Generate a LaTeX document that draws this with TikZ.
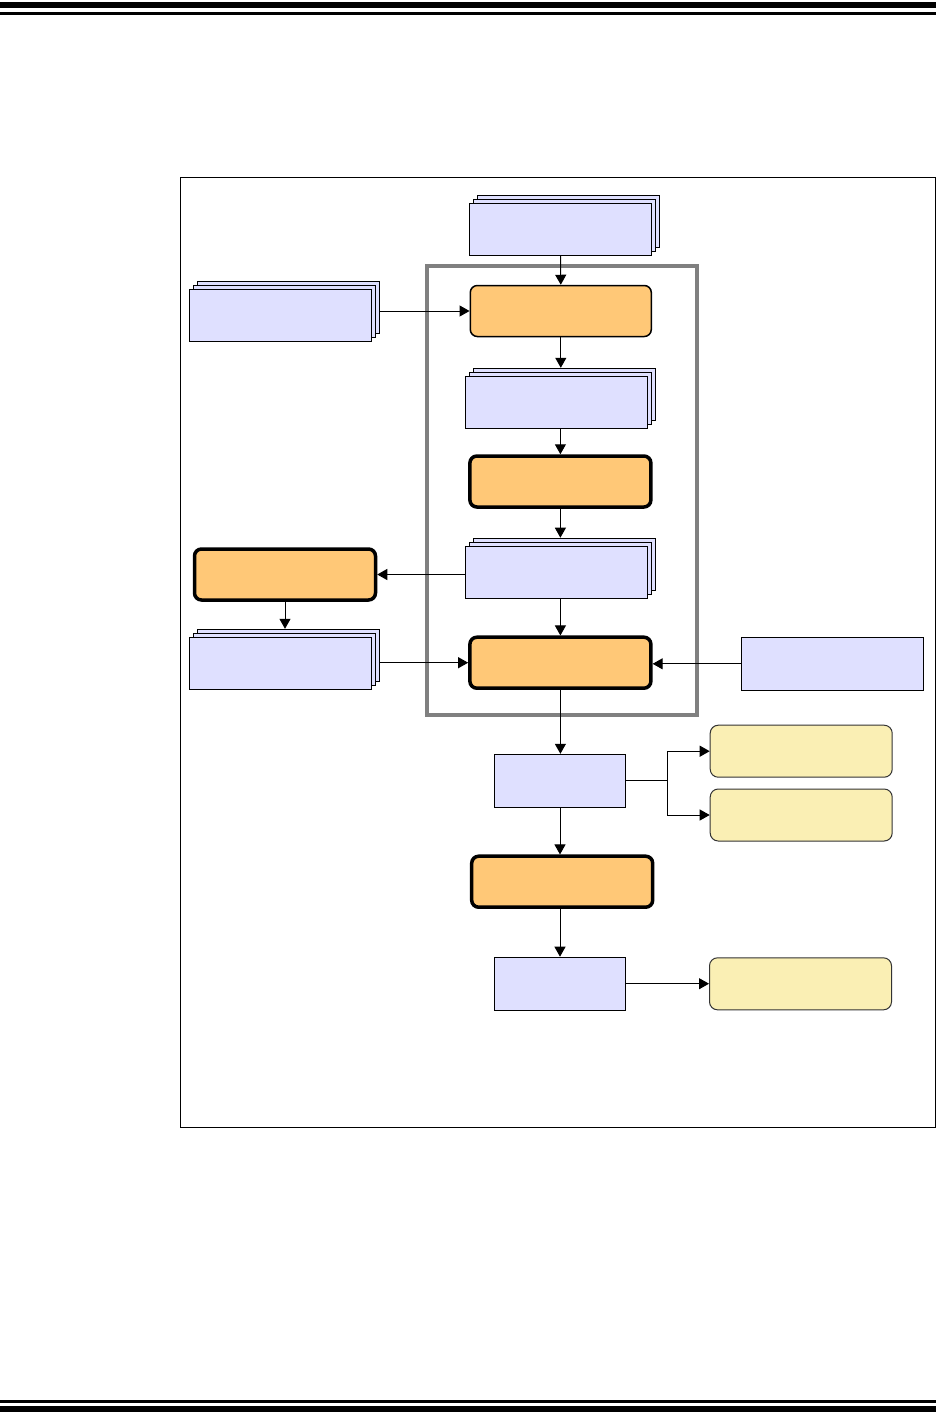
\documentclass[tikz,border=0pt]{standalone}
\usetikzlibrary{arrows.meta, shadows, positioning}

\definecolor{docblue}{RGB}{223,224,255}
\definecolor{procorange}{RGB}{255,200,119}
\definecolor{noteyellow}{RGB}{250,239,180}
\definecolor{framegray}{RGB}{128,128,128}

\begin{document}
\begin{tikzpicture}[x=1pt, y=-1pt, >={Triangle[length=10pt,width=11pt]},
  every node/.style={inner sep=0pt},
  plainbox/.style={draw, fill=docblue, line width=1pt, minimum width=182pt, minimum height=52pt},
  smallbox/.style={plainbox, minimum width=131pt, minimum height=53pt},
  docstack/.style={plainbox, double copy shadow={shadow xshift=4pt, shadow yshift=4pt,
      fill=docblue, draw=black, line width=1pt}},
  procbox/.style={draw, fill=procorange, line width=3.5pt, rounded corners=7pt,
      minimum width=181pt, minimum height=51pt},
  procthin/.style={procbox, line width=1.5pt},
  notebox/.style={draw=black!80, fill=noteyellow, line width=1pt, rounded corners=8pt,
      minimum width=182pt, minimum height=52pt},
  flow/.style={->, line width=1pt}
]
  \useasboundingbox (0,0) rectangle (936,1428);

  % page rules
  \fill (0,2) rectangle (936,8);
  \fill (0,12) rectangle (936,14.5);
  \fill (0,1400) rectangle (936,1402.5);
  \fill (0,1406) rectangle (936,1412);

  % outer frame and grouping box
  \draw[line width=1pt] (180.5,177.5) rectangle (935,1127);
  \draw[framegray, line width=3.5pt] (427,266) rectangle (697,715);

  % main column
  \node[docstack] (td) at (560.5,229.2) {};
  \node[procthin] (o1) at (560.8,311) {};
  \node[docstack] (d2) at (556.5,402.3) {};
  \node[procbox] (o2) at (560.4,481.5) {};
  \node[docstack] (d3) at (556.5,572.2) {};
  \node[procbox] (o3) at (560.4,662.7) {};
  \node[smallbox] (ba) at (560,780.8) {};
  \node[procbox] (o5) at (562.2,881.7) {};
  \node[smallbox] (bb) at (560,983.7) {};

  % left side
  \node[docstack] (ld1) at (280.5,315.7) {};
  \node[procbox] (o4) at (285,574.5) {};
  \node[docstack] (ld4) at (280.5,663.3) {};

  % right side
  \node[plainbox, minimum height=53pt] (rb) at (832.7,663.8) {};
  \node[notebox] (y1) at (801.2,751.2) {};
  \node[notebox] (y2) at (801.2,815) {};
  \node[notebox] (y3) at (800.5,983.8) {};

  % tops of the stacked copies
  \coordinate (d2top) at ([yshift=8pt]d2.north);
  \coordinate (d3top) at ([yshift=8pt]d3.north);
  \coordinate (ld4top) at ([yshift=8pt]ld4.north);

  % vertical flow
  \draw[flow] (td.south) -- (o1.north);
  \draw[flow] (o1.south) -- (o1.south |- d2top);
  \draw[flow] (d2.south -| o2.north) -- (o2.north);
  \draw[flow] (o2.south) -- (o2.south |- d3top);
  \draw[flow] (d3.south -| o3.north) -- (o3.north);
  \draw[flow] (o3.south) -- (o3.south |- ba.north);
  \draw[flow] (ba.south) -- (ba.south |- o5.north);
  \draw[flow] (o5.south -| bb.north) -- (bb.north);
  \draw[flow] (o4.south) -- (o4.south |- ld4top);

  % horizontal flow
  \draw[flow] ([xshift=8pt]ld1.east |- o1.west) -- (o1.west);
  \draw[flow] (d3.west |- o4.east) -- (o4.east);
  \draw[flow] ([xshift=8pt]ld4.east |- o3.west) -- (o3.west);
  \draw[flow] (rb.west) -- (rb.west -| o3.east);
  \draw[flow] (ba.east) -- ++(41,0) |- (y1.west);
  \draw[flow] (ba.east) -- ++(41,0) |- (y2.west);
  \draw[flow] (bb.east) -- (bb.east -| y3.west);
\end{tikzpicture}
\end{document}
